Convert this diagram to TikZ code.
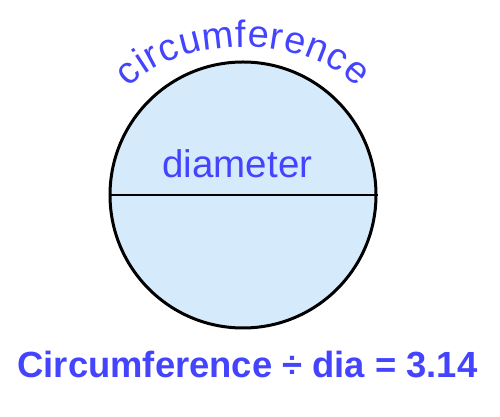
\documentclass[tikz,border=0pt]{standalone}
\usepackage{fontspec}
\setmainfont{Liberation Sans}
\usetikzlibrary{decorations.markings}
\definecolor{tblue}{RGB}{68,68,255}
\definecolor{cfill}{RGB}{213,235,252}
\tikzset{
  label text/.style={text=tblue, inner sep=0pt, anchor=base},
  letter/.style={transform shape, anchor=base, inner sep=0pt, text=tblue, font=\fontsize{38}{38}\selectfont},
  rim/.style={circle, draw=black, line width=3pt, fill=cfill, minimum size=266pt, inner sep=0pt},
}
\begin{document}
\begin{tikzpicture}[x=1pt,y=1pt]
\useasboundingbox (0,0) rectangle (500,417);
\node[rim] (circ) at (243,222) {};
\draw[line width=2.6pt] (circ.west) -- (circ.east);
\node[label text, font=\fontsize{38.5}{40}\selectfont] (dia) at (237.4,239.3) {diameter};
\node[label text, font=\bfseries\fontsize{36.4}{40}\selectfont] (formula) at (247.5,39) {Circumference ÷ dia = 3.14};
\coordinate (arcc) at (243,291);
\path[decorate, decoration={markings,
  mark=at position 9.5pt with {\node[letter] (l1) {c};},
  mark=at position 24.02pt with {\node[letter] (l2) {i};},
  mark=at position 35.36pt with {\node[letter] (l3) {r};},
  mark=at position 51.99pt with {\node[letter] (l4) {c};},
  mark=at position 72.85pt with {\node[letter] (l5) {u};},
  mark=at position 100.05pt with {\node[letter] (l6) {m};},
  mark=at position 121.95pt with {\node[letter] (l7) {f};},
  mark=at position 138.6pt with {\node[letter] (l8) {e};},
  mark=at position 156.29pt with {\node[letter] (l9) {r};},
  mark=at position 173.98pt with {\node[letter] (l10) {e};},
  mark=at position 195.91pt with {\node[letter] (l11) {n};},
  mark=at position 216.77pt with {\node[letter] (l12) {c};},
  mark=at position 237.64pt with {\node[letter] (l13) {e};}}]
  (arcc) ++(151:130 and 79) arc[start angle=151, end angle=29, x radius=130, y radius=79];
\end{tikzpicture}
\end{document}
